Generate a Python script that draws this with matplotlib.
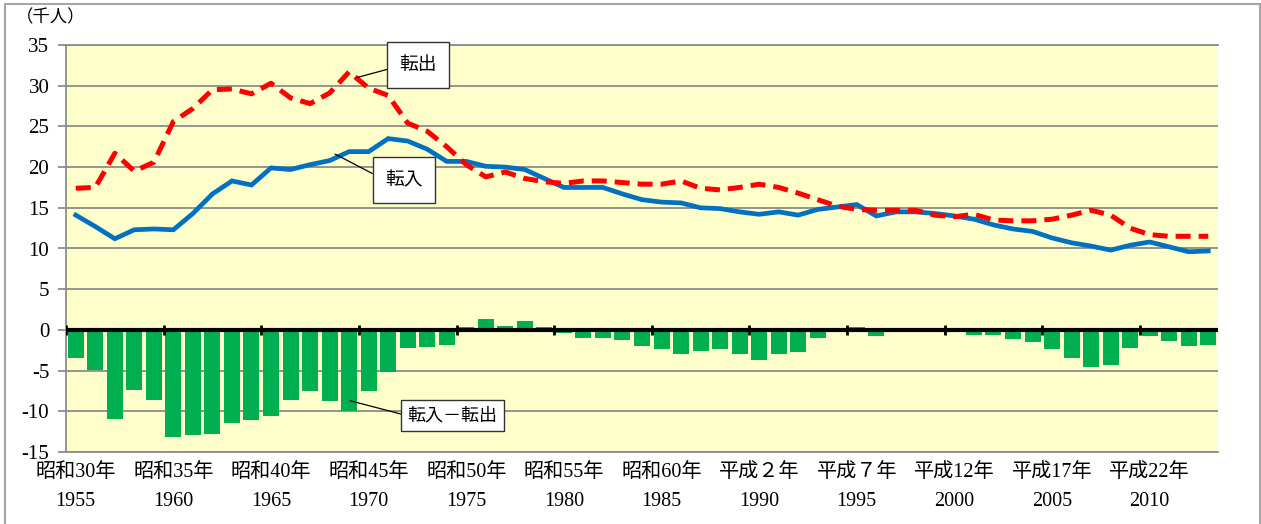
import matplotlib
matplotlib.use("Agg")
import matplotlib.pyplot as plt
from matplotlib.patches import Rectangle
import numpy as np

plt.rcParams['font.family'] = ['Liberation Serif', 'Noto Sans CJK JP']
plt.rcParams['axes.unicode_minus'] = False

# 年次 (昭和30年=1955 ～ 平成25年=2013)
years = list(range(1955, 2014))

# 転入 (千人)
tennyu = [14.1, 12.7, 11.2, 12.3, 12.4, 12.3, 14.3, 16.7, 18.3, 17.8,
          19.9, 19.7, 20.3, 20.8, 21.9, 21.9, 23.5, 23.2, 22.2, 20.7,
          20.7, 20.1, 20.0, 19.7, 18.6, 17.5, 17.5, 17.5, 16.7, 16.0,
          15.7, 15.6, 15.0, 14.9, 14.5, 14.2, 14.5, 14.1, 14.8, 15.1,
          15.4, 14.0, 14.5, 14.5, 14.3, 14.0, 13.6, 12.9, 12.4, 12.1,
          11.3, 10.7, 10.3, 9.8, 10.4, 10.8, 10.2, 9.6, 9.7]

# 転出 (千人)
tenshutsu = [17.4, 17.5, 21.7, 19.5, 20.6, 25.6, 27.2, 29.5, 29.6, 29.0,
             30.3, 28.5, 27.8, 29.1, 31.7, 29.7, 28.8, 25.4, 24.4, 22.5,
             20.3, 18.8, 19.4, 18.6, 18.2, 18.0, 18.3, 18.3, 18.1, 17.9,
             17.9, 18.3, 17.4, 17.2, 17.5, 17.9, 17.5, 16.8, 16.0, 15.2,
             14.8, 14.7, 14.7, 14.7, 14.1, 13.9, 14.2, 13.5, 13.4, 13.4,
             13.6, 14.1, 14.7, 14.1, 12.5, 11.7, 11.5, 11.5, 11.5]

# 転入－転出 (千人)
net = [-3.4, -4.9, -11.0, -7.4, -8.6, -13.2, -12.9, -12.8, -11.4, -11.1,
       -10.6, -8.6, -7.5, -8.7, -10.0, -7.5, -5.2, -2.2, -2.1, -1.9,
       0.3, 1.35, 0.45, 1.05, 0.35, -0.4, -0.95, -1.05, -1.3, -2.0,
       -2.4, -2.9, -2.6, -2.4, -3.0, -3.7, -3.0, -2.7, -1.0, -0.1,
       0.4, -0.7, -0.3, -0.1, 0.2, 0.05, -0.6, -0.6, -1.1, -1.5,
       -2.4, -3.5, -4.6, -4.3, -2.2, -0.8, -1.4, -2.0, -1.8]

era_labels = ['昭和30年', '昭和35年', '昭和40年', '昭和45年', '昭和50年',
              '昭和55年', '昭和60年', '平成２年', '平成７年', '平成12年',
              '平成17年', '平成22年']
label_years = list(range(1955, 2011, 5))

x = np.arange(len(years))

fig = plt.figure(figsize=(12.61, 5.24), dpi=100)
ax = fig.add_axes([66 / 1261, 1 - 452 / 524, (1218 - 66) / 1261, (452 - 45) / 524])
ax.set_facecolor('#FFFFCC')

# outer frame
fig.patches.append(Rectangle((5 / 1261, -0.1), 1255 / 1261, 1.1 - 4 / 524,
                             transform=fig.transFigure, fill=False,
                             edgecolor='#A6A6A6', linewidth=1.5))

ax.bar(x, net, width=0.82, color='#00B050', zorder=2)
ax.axhline(0, color='black', linewidth=3, zorder=3)
bounds = x[::5][:12] - 0.5
ax.vlines(bounds, -0.65, 0.65, color='black', linewidth=2, zorder=3)

ax.plot(x, tennyu, color='#0070C0', linewidth=3.4, zorder=4,
        solid_joinstyle='miter')
ax.plot(x, tenshutsu, color='#FF0000', linewidth=3.6, zorder=5,
        linestyle=(0, (3, 1.6)), dash_capstyle='butt')

ax.set_xlim(-0.5, len(years) - 0.5)
ax.set_ylim(-15, 35)
ax.set_yticks(range(-15, 36, 5))
ax.grid(axis='y', color='#8C8C8C', linewidth=1.3)
ax.set_axisbelow(True)

for s in ['top', 'bottom', 'left']:
    ax.spines[s].set_color('#8C8C8C')
    ax.spines[s].set_linewidth(1.3)
ax.spines['right'].set_visible(False)

ax.tick_params(axis='y', length=6, width=1.3, color='#8C8C8C',
               labelsize=15, pad=6)
ax.set_xticks([years.index(y) for y in label_years])
ax.set_xticklabels([f'{e}\n{y}' for e, y in zip(era_labels, label_years)],
                   fontsize=14.5)
ax.tick_params(axis='x', length=0, pad=8)
for t in ax.get_xticklabels():
    t.set_linespacing(1.7)

fig.text(16 / 1261, 1 - 17 / 524, '（千人）', fontsize=12.5, ha='left',
         va='center', family=['Noto Sans CJK JP'])

box = dict(boxstyle='square,pad=0.65', facecolor='white',
           edgecolor='#333333', linewidth=1)
line = dict(arrowstyle='-', color='black', linewidth=0.9, shrinkA=0, shrinkB=0)

ax.annotate('転出', xy=(14.4, 31.0), xytext=(17.55, 32.55), fontsize=13.5,
            ha='center', va='center', bbox=box, zorder=6,
            family=['Noto Sans CJK JP'],
            arrowprops=dict(line, relpos=(0, 0.45)))
ax.annotate('転入', xy=(13.28, 21.6), xytext=(16.8, 18.4), fontsize=13.5,
            ha='center', va='center', bbox=box, zorder=6,
            family=['Noto Sans CJK JP'],
            arrowprops=dict(line, relpos=(0, 0.5)))
box2 = dict(box, boxstyle='square,pad=0.35')
ax.annotate('転入－転出', xy=(14.05, -8.7), xytext=(19.3, -10.55), fontsize=13,
            ha='center', va='center', bbox=box2, zorder=6,
            family=['Noto Sans CJK JP'],
            arrowprops=dict(line, relpos=(0, 0.5)))

fig.savefig('out.png', dpi=100)
